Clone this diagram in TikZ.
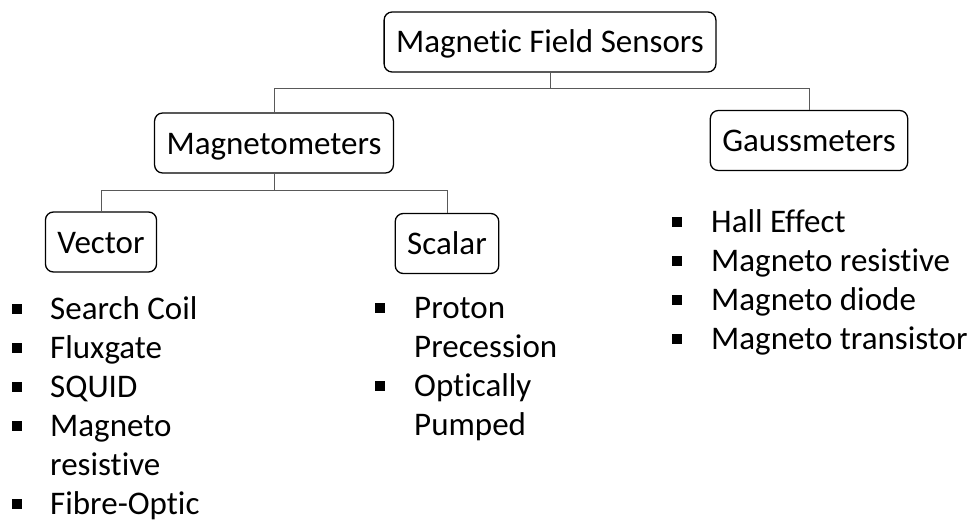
\documentclass[tikz,border=0pt]{standalone}
\usepackage{fontspec}
\setmainfont{Carlito}[Ligatures=NoCommon]
\newcommand{\sqbul}{\rule[5.5pt]{9.5pt}{9.5pt}}

\begin{document}
\begin{tikzpicture}[
            x=1pt, y=-1pt,
            every node/.style={font=\fontsize{33}{39}\selectfont},
            sensor/.style={draw, rounded corners=8pt, line width=1.3pt, inner xsep=12pt, inner ysep=0pt,
              minimum height=60pt, text height=24pt, text depth=2pt},
            list/.style={anchor=base west, inner sep=0pt},
            link/.style={draw=black!65, line width=0.9pt}
            ]
            \useasboundingbox (0,0) rectangle (973,524);
            % Root node
            \node[sensor] (root) at (550,42) {Magnetic Field Sensors};
            % Level 1
            \node[sensor] (mag) at (274,143) {Magnetometers};
            \node[sensor] (gauss) at (809,140.5) {Gaussmeters};
            % Level 2
            \node[sensor] (vector) at (101,242) {Vector};
            \node[sensor] (scalar) at (447,243.5) {Scalar};
            % Connectors
            \draw[link] (root.south) -- ++(0,16) -| (mag.north);
            \draw[link] (root.south) -- ++(0,16) -| (gauss.north);
            \draw[link] (mag.south) -- ++(0,17) -| (vector.north);
            \draw[link] (mag.south) -- ++(0,17) -| (scalar.north);
            % Sensor lists
            \node[list] (veclist) at (12,319) {\begin{tabular}[t]{@{}l@{\hspace{28.5pt}}l@{}}
              \sqbul & Search Coil\\
              \sqbul & Fluxgate\\
              \sqbul & SQUID\\
              \sqbul & Magneto\\
                     & resistive\\
              \sqbul & Fibre-Optic
            \end{tabular}};
            \node[list] (scalist) at (375,318) {\begin{tabular}[t]{@{}l@{\hspace{29.5pt}}l@{}}
              \sqbul & Proton\\
                     & Precession\\
              \sqbul & Optically\\
                     & Pumped
            \end{tabular}};
            \node[list] (gaulist) at (672,232) {\begin{tabular}[t]{@{}l@{\hspace{29.5pt}}l@{}}
              \sqbul & Hall Effect\\
              \sqbul & Magneto resistive\\
              \sqbul & Magneto diode\\
              \sqbul & Magneto transistor
            \end{tabular}};
          \end{tikzpicture}
\end{document}
